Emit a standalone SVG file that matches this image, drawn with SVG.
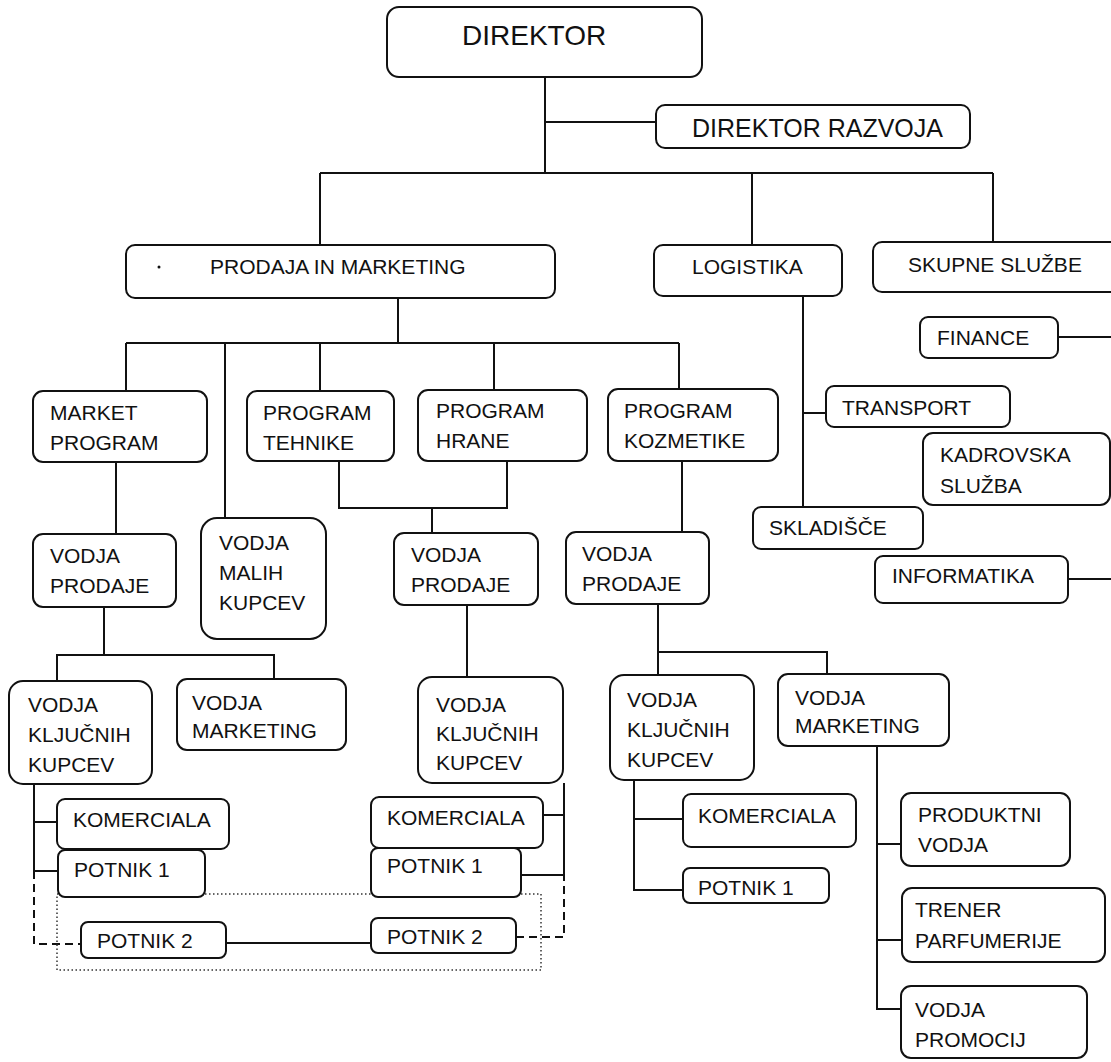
<svg xmlns="http://www.w3.org/2000/svg" width="1111" height="1062" viewBox="0 0 1111 1062">
<style>
.b{fill:#fff;stroke:#111;stroke-width:2}
.c{fill:none;stroke:#111;stroke-width:2}
.d{fill:none;stroke:#111;stroke-width:2;stroke-dasharray:8 5}
.o{fill:none;stroke:#333;stroke-width:1.5;stroke-dasharray:1.5 2.5}
text{font-family:"Liberation Sans",Arial,sans-serif;fill:#111;font-size:21px}
</style>
<rect width="1111" height="1062" fill="#fff"/>
<g id="connectors">
<path class="c" d="M545 77V173M545 122H656M320 173H993M320 173V245M752 173V245M993 173V242"/>
<path class="c" d="M398 298V343M126 343H679M126 343V391M225 343V518M320 343V391M494 343V390M679 343V389"/>
<path class="c" d="M803 296V507M803 413H826M1058 337H1111M1068 579H1111"/>
<path class="c" d="M116 462V534M339 461V508H507V461M432 508V533M682 461V532"/>
<path class="c" d="M104 607V655M57 681V655H274V679M467 605V677M658 604V675M658 652H827V674"/>
<path class="c" d="M34 778V871M34 822H57M34 871H58M226 943H371"/>
<path class="c" d="M564 783V874M543 815H564M521 875H564"/>
<path class="c" d="M634 780V890H683M634 819H683"/>
<path class="c" d="M877 746V1009H901M877 844H901M877 940H902"/>
<path class="d" d="M34 871V944H81M516 937H564V874"/>
<rect class="o" x="57" y="894" width="484" height="76"/>
</g>
<g id="direktor"><rect class="b" x="387" y="7" width="315" height="70" rx="12"/><text x="462" y="45" style="font-size:28px">DIREKTOR</text></g>
<g id="direktor-razvoja"><rect class="b" x="656" y="105" width="314" height="43" rx="9"/><text x="692" y="137" style="font-size:25px">DIREKTOR RAZVOJA</text></g>
<g id="prodaja"><rect class="b" x="126" y="245" width="429" height="53" rx="9"/><circle cx="159" cy="267" r="1.5" fill="#111"/><text x="210" y="274">PRODAJA IN MARKETING</text></g>
<g id="logistika"><rect class="b" x="654" y="245" width="188" height="51" rx="9"/><text x="692" y="274">LOGISTIKA</text></g>
<g id="skupne"><rect class="b" x="873" y="242" width="250" height="50" rx="9"/><text x="908" y="272">SKUPNE SLUŽBE</text></g>
<g id="finance"><rect class="b" x="920" y="317" width="138" height="41" rx="8"/><text x="937" y="345">FINANCE</text></g>
<g id="transport"><rect class="b" x="826" y="386" width="184" height="41" rx="8"/><text x="842" y="415">TRANSPORT</text></g>
<g id="kadrovska"><rect class="b" x="923" y="433" width="187" height="72" rx="10"/><text x="940" y="462">KADROVSKA</text><text x="940" y="493">SLUŽBA</text></g>
<g id="skladisce"><rect class="b" x="753" y="507" width="170" height="42" rx="8"/><text x="769" y="535">SKLADIŠČE</text></g>
<g id="informatika"><rect class="b" x="875" y="556" width="193" height="47" rx="8"/><text x="892" y="583">INFORMATIKA</text></g>
<g id="market-program"><rect class="b" x="33" y="391" width="174" height="71" rx="10"/><text x="50" y="420">MARKET</text><text x="50" y="450">PROGRAM</text></g>
<g id="program-tehnike"><rect class="b" x="247" y="391" width="147" height="70" rx="10"/><text x="263" y="420">PROGRAM</text><text x="263" y="450">TEHNIKE</text></g>
<g id="program-hrane"><rect class="b" x="418" y="390" width="169" height="71" rx="10"/><text x="436" y="418">PROGRAM</text><text x="436" y="448">HRANE</text></g>
<g id="program-kozmetike"><rect class="b" x="608" y="389" width="170" height="72" rx="10"/><text x="624" y="418">PROGRAM</text><text x="624" y="448">KOZMETIKE</text></g>
<g id="vodja-prodaje-1"><rect class="b" x="33" y="534" width="143" height="73" rx="10"/><text x="50" y="563">VODJA</text><text x="50" y="593">PRODAJE</text></g>
<g id="vodja-malih-kupcev"><rect class="b" x="201" y="518" width="125" height="121" rx="16"/><text x="219" y="550">VODJA</text><text x="219" y="580">MALIH</text><text x="219" y="610">KUPCEV</text></g>
<g id="vodja-prodaje-2"><rect class="b" x="394" y="533" width="144" height="72" rx="10"/><text x="411" y="562">VODJA</text><text x="411" y="592">PRODAJE</text></g>
<g id="vodja-prodaje-3"><rect class="b" x="566" y="532" width="143" height="72" rx="10"/><text x="582" y="561">VODJA</text><text x="582" y="591">PRODAJE</text></g>
<g id="vkk-1"><rect class="b" x="9" y="681" width="143" height="103" rx="14"/><text x="28" y="712">VODJA</text><text x="28" y="742">KLJUČNIH</text><text x="28" y="772">KUPCEV</text></g>
<g id="vodja-marketing-1"><rect class="b" x="177" y="679" width="169" height="71" rx="10"/><text x="192" y="710">VODJA</text><text x="192" y="738">MARKETING</text></g>
<g id="vkk-2"><rect class="b" x="418" y="677" width="145" height="106" rx="14"/><text x="436" y="712">VODJA</text><text x="436" y="741">KLJUČNIH</text><text x="436" y="770">KUPCEV</text></g>
<g id="vkk-3"><rect class="b" x="610" y="675" width="144" height="105" rx="14"/><text x="627" y="707">VODJA</text><text x="627" y="737">KLJUČNIH</text><text x="627" y="767">KUPCEV</text></g>
<g id="vodja-marketing-2"><rect class="b" x="778" y="674" width="171" height="72" rx="10"/><text x="795" y="705">VODJA</text><text x="795" y="733">MARKETING</text></g>
<g id="komerciala-1"><rect class="b" x="57" y="799" width="172" height="50" rx="8"/><text x="73" y="827">KOMERCIALA</text></g>
<g id="potnik1-1"><rect class="b" x="58" y="850" width="147" height="47" rx="7"/><text x="74" y="877">POTNIK 1</text></g>
<g id="potnik2-1"><rect class="b" x="81" y="922" width="145" height="36" rx="7"/><text x="97" y="948">POTNIK 2</text></g>
<g id="komerciala-2"><rect class="b" x="371" y="797" width="172" height="51" rx="8"/><text x="387" y="825">KOMERCIALA</text></g>
<g id="potnik1-2"><rect class="b" x="371" y="848" width="150" height="49" rx="7"/><text x="387" y="873">POTNIK 1</text></g>
<g id="potnik2-2"><rect class="b" x="371" y="918" width="145" height="35" rx="7"/><text x="387" y="944">POTNIK 2</text></g>
<g id="komerciala-3"><rect class="b" x="683" y="794" width="173" height="53" rx="8"/><text x="698" y="823">KOMERCIALA</text></g>
<g id="potnik1-3"><rect class="b" x="683" y="868" width="146" height="35" rx="7"/><text x="698" y="895">POTNIK 1</text></g>
<g id="produktni-vodja"><rect class="b" x="901" y="793" width="169" height="73" rx="10"/><text x="918" y="822">PRODUKTNI</text><text x="918" y="852">VODJA</text></g>
<g id="trener"><rect class="b" x="902" y="888" width="203" height="74" rx="10"/><text x="915" y="917">TRENER</text><text x="915" y="948">PARFUMERIJE</text></g>
<g id="vodja-promocij"><rect class="b" x="901" y="986" width="186" height="72" rx="10"/><text x="915" y="1017">VODJA</text><text x="915" y="1047">PROMOCIJ</text></g>
</svg>
